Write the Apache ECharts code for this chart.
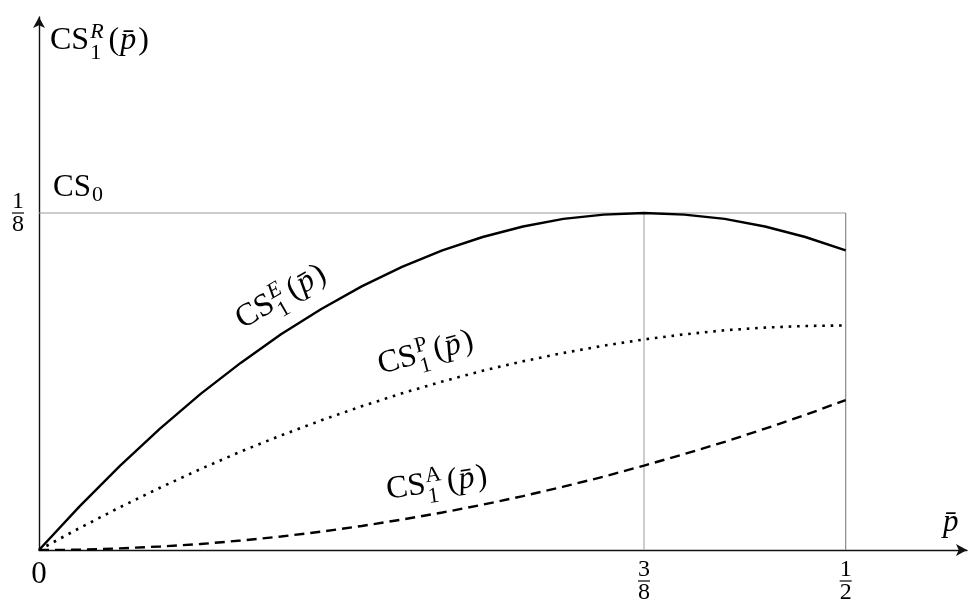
<!DOCTYPE html>
<html><head><meta charset="utf-8">
<script src="https://cdn.jsdelivr.net/npm/echarts@6/dist/echarts.min.js"></script>
<style>html,body{margin:0;padding:0;background:#fff}#c{width:973px;height:604px}</style>
</head><body><div id="c"></div>
<script>
// ---- data ----
const pValues = [0,0.025,0.05,0.075,0.1,0.125,0.15,0.175,0.2,0.225,0.25,0.275,0.3,0.325,0.35,0.375,0.4,0.425,0.45,0.475,0.5];
const csE = [0,0.0161,0.0311,0.0450,0.0578,0.0694,0.0800,0.0894,0.0978,0.1050,0.1111,0.1161,0.1200,0.1228,0.1244,0.1250,0.1244,0.1228,0.1200,0.1161,0.1111];
const csP = [0,0.0081,0.0158,0.0231,0.0300,0.0365,0.0425,0.0481,0.0533,0.0581,0.0625,0.0665,0.0700,0.0731,0.0758,0.0781,0.0800,0.0815,0.0825,0.0831,0.0833];
const csA = [0,0.0001,0.0006,0.0013,0.0022,0.0035,0.0050,0.0068,0.0089,0.0113,0.0139,0.0168,0.0200,0.0235,0.0272,0.0313,0.0356,0.0401,0.0450,0.0501,0.0556];
const cs0 = 0.125;
const pStar = 0.375;
const pMax = 0.5;
const xTickValues = [0, 0.375, 0.5];
const xTickLabels = ['0', '3/8', '1/2'];
const yTickValues = [0.125];
const yTickLabels = ['1/8'];

const FF = 'Liberation Serif';
const zip = (xs, ys) => xs.map((x, i) => [x, ys[i]]);

const cv = document.createElement('canvas').getContext('2d');
function measure(t, it, size) {
  cv.font = (it ? 'italic ' : '') + size + 'px "Liberation Serif"';
  return cv.measureText(t).width;
}
function mathGroup(px, py, rotDeg, base, sup, supIt, sub, F) {
  const f = Math.round(F * 0.7);
  const ch = [];
  const add = (t, it, size, dy, xx) => ch.push({
    type: 'text', x: xx, y: dy - 0.3 * size,
    style: { text: t, fontSize: size, fontFamily: FF, fontStyle: it ? 'italic' : 'normal',
      fill: '#000', align: 'left', verticalAlign: 'middle' }
  });
  let x = 0;
  add(base, false, F, 0, x);
  x += measure(base, false, F) + 1;
  let w = 0;
  if (sup) { add(sup, supIt, f, -0.36 * F, x); w = Math.max(w, measure(sup, supIt, f)); }
  if (sub) { add(sub, false, f, sup ? 0.3 * F : 0.17 * F, x); w = Math.max(w, measure(sub, false, f)); }
  x += w;
  if (sup) {
    x += 5;
    add('(', false, F, 0, x); x += measure('(', false, F) + 1;
    add('p\u0304', true, F, 0, x); x += measure('p', true, F) + 2;
    add(')', false, F, 0, x);
  }
  return { type: 'group', x: px, y: py, rotation: rotDeg * Math.PI / 180, children: ch };
}

function fracLabel(labels, values) {
  return function (v) {
    let i = values.findIndex(a => Math.abs(a - v) < 1e-9);
    if (i < 0) return '';
    const s = labels[i];
    if (s.indexOf('/') < 0) return '{z|' + s + '}';
    const [n, d] = s.split('/');
    return '{n|' + n + '}\n{b|}\n{d|' + d + '}';
  };
}
const fracRich = {
  z: { fontSize: 31, fontFamily: FF, color: '#000', lineHeight: 30 },
  n: { fontSize: 24, fontFamily: FF, color: '#000', lineHeight: 19, align: 'center' },
  b: { width: 12, height: 1.2, lineHeight: 4, backgroundColor: '#000', align: 'center' },
  d: { fontSize: 24, fontFamily: FF, color: '#000', lineHeight: 19, align: 'center' }
};

const chart = echarts.init(document.getElementById('c'), null, { renderer: 'canvas' });
const baseAxisLine = { show: true, onZero: false, symbol: ['none', 'arrow'], symbolSize: [9, 11],
  lineStyle: { color: '#111', width: 1.4 } };

chart.setOption({
  animation: false,
  backgroundColor: '#fff',
  grid: { left: 39, right: 6, top: 17, bottom: 54, containLabel: false, outerBoundsMode: 'none' },
  xAxis: {
    type: 'value', min: 0, max: 0.5752,
    axisLine: baseAxisLine, axisTick: { show: false }, splitLine: { show: false },
    axisLabel: { customValues: xTickValues, formatter: fracLabel(xTickLabels, xTickValues),
      rich: fracRich, margin: 10, showMinLabel: true }
  },
  yAxis: {
    type: 'value', min: 0, max: 0.1977,
    axisLine: baseAxisLine, axisTick: { show: false }, splitLine: { show: false },
    axisLabel: { customValues: yTickValues, formatter: fracLabel(yTickLabels, yTickValues),
      rich: fracRich, margin: 21, align: 'center' }
  },
  series: [
    { type: 'line', data: [[0, cs0], [pMax, cs0]], showSymbol: false, silent: true,
      lineStyle: { color: '#999', width: 1.2 }, z: 1 },
    { type: 'line', data: [[pStar, 0], [pStar, cs0]], showSymbol: false, silent: true,
      lineStyle: { color: '#b8b8b8', width: 1.4 }, z: 1 },
    { type: 'line', data: [[pMax, 0], [pMax, cs0]], showSymbol: false, silent: true,
      lineStyle: { color: '#888', width: 1.2 }, z: 1 },
    { type: 'line', name: 'E', data: zip(pValues, csE), showSymbol: false,
      lineStyle: { color: '#000', width: 2.4 }, z: 3 },
    { type: 'line', name: 'P', data: zip(pValues, csP), showSymbol: false,
      lineStyle: { color: '#000', width: 2.6, type: [2.6, 5.8], cap: 'butt' }, z: 3 },
    { type: 'line', name: 'A', data: zip(pValues, csA), showSymbol: false,
      lineStyle: { color: '#000', width: 2.4, type: [10, 6] }, z: 3 }
  ],
  graphic: [
    mathGroup(50, 50, 0, 'CS', 'R', true, '1', 32),
    mathGroup(53, 197, 0, 'CS', null, false, '0', 31),
    mathGroup(243, 330, 30, 'CS', 'E', true, '1', 32),
    mathGroup(381, 375, 15, 'CS', 'P', false, '1', 32),
    mathGroup(388, 500, 8, 'CS', 'A', false, '1', 32),
    { type: 'text', x: 943, y: 532 - 9, style: { text: 'p\u0304', fontSize: 31, fontFamily: FF,
      fontStyle: 'italic', fill: '#000', verticalAlign: 'middle' } }
  ]
});
</script>
</body></html>
